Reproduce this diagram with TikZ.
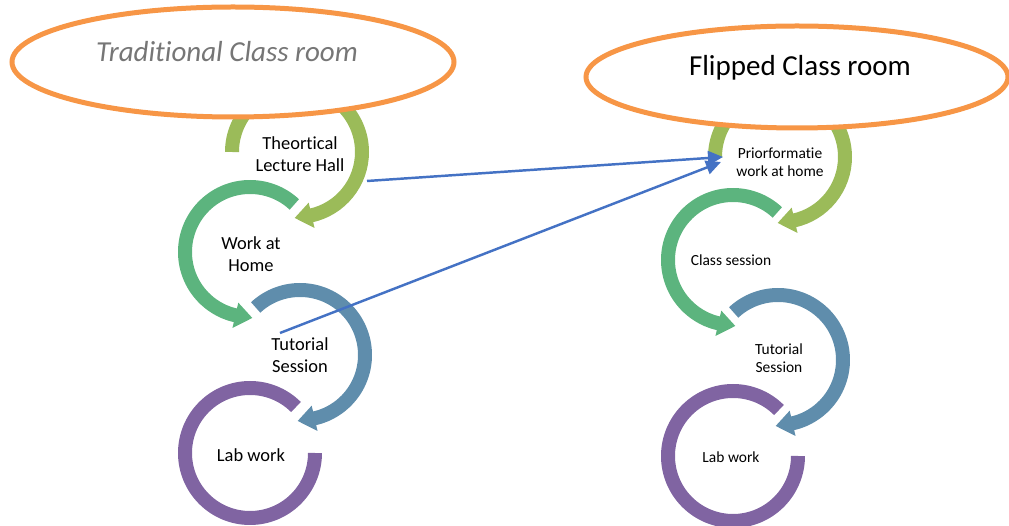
\documentclass[tikz,border=0pt]{standalone}
\usepackage{fontspec}
\setmainfont{Carlito}[RawFeature={-liga;-clig;-calt}]
\usepackage{tikz}
\usetikzlibrary{arrows.meta}
\definecolor{ringolive}{RGB}{155,187,89}
\definecolor{ringgreen}{RGB}{92,180,126}
\definecolor{ringblue}{RGB}{95,141,172}
\definecolor{ringpurple}{RGB}{128,100,162}
\definecolor{titleorange}{RGB}{247,150,70}
\definecolor{linkblue}{RGB}{68,114,196}
\definecolor{titlegray}{RGB}{118,118,118}

\begin{document}
\begin{tikzpicture}[x=0.02cm, y=0.02cm,
    ring/.style={line width=0.28cm},
    titleshape/.style={titleorange, line width=0.1cm, fill=white},
    lefttext/.style={align=center, font=\fontsize{10.5}{12.5}\selectfont},
    righttext/.style={align=center, font=\fontsize{8.8}{10}\selectfont},
    link/.style={linkblue, line width=1.4pt, -{Triangle[length=3mm,width=2.8mm]}}]
  \useasboundingbox (0,0) rectangle (1009,-526);

  % traditional class room
  \draw[ring, ringolive] (297,-152) ++(180:65) arc[start angle=180, end angle=-78, radius=65];
  \fill[ringolive, shift={(297,-152)}] (-77:78) -- (-92:66) -- (-77:52) -- cycle;
  \draw[ring, ringgreen] (250,-252) ++(47:65) arc[start angle=47, end angle=258, radius=65];
  \fill[ringgreen, shift={(250,-252)}] (257:78) -- (272:66) -- (257:52) -- cycle;
  \draw[ring, ringblue] (300,-355) ++(133:65) arc[start angle=133, end angle=-78, radius=65];
  \fill[ringblue, shift={(300,-355)}] (-77:78) -- (-92:66) -- (-77:52) -- cycle;
  \draw[ring, ringpurple] (250,-453) ++(45:65) arc[start angle=45, end angle=360, radius=65];

  \node[lefttext] (lecture) at (300,-154) {Theortical\\Lecture Hall};
  \node[lefttext] (homework) at (251,-254) {Work at\\Home};
  \node[lefttext] (tutorial) at (300,-355) {Tutorial\\Session};
  \node[lefttext] (labwork) at (251,-455) {Lab work};

  \draw[titleshape] (233,-62) ellipse [x radius=221, y radius=55];
  \node[font=\fontsize{16.5}{19}\selectfont\itshape, text=titlegray] (traditional) at (227,-52) {Traditional Class room};

  % flipped class room
  \draw[ring, ringolive] (780,-157) ++(180:65) arc[start angle=180, end angle=-78, radius=65];
  \fill[ringolive, shift={(780,-157)}] (-77:78) -- (-92:66) -- (-77:52) -- cycle;
  \draw[ring, ringgreen] (733,-260) ++(47:65) arc[start angle=47, end angle=258, radius=65];
  \fill[ringgreen, shift={(733,-260)}] (257:78) -- (272:66) -- (257:52) -- cycle;
  \draw[ring, ringblue] (778,-360) ++(133:65) arc[start angle=133, end angle=-78, radius=65];
  \fill[ringblue, shift={(778,-360)}] (-77:78) -- (-92:66) -- (-77:52) -- cycle;
  \draw[ring, ringpurple] (733,-456) ++(45:65) arc[start angle=45, end angle=360, radius=65];

  \node[righttext] (prior) at (780,-162) {Priorformatie\\work at home};
  \node[righttext] (classsession) at (731,-260) {Class session};
  \node[righttext] (tutorialtwo) at (779,-358) {Tutorial\\Session};
  \node[righttext] (labworktwo) at (731,-457) {Lab work};

  \draw[titleshape] (797,-77) ellipse [x radius=211, y radius=51];
  \node[font=\fontsize{16.5}{19}\selectfont] (flipped) at (800,-68) {Flipped Class room};

  % links
  \coordinate (lectureout) at (367,-181);
  \coordinate (tutorialout) at (280,-333);
  \coordinate (priorin) at (723,-157);
  \coordinate (priorintwo) at (721,-162);
  \draw[link] (lectureout) -- (priorin);
  \draw[link] (tutorialout) -- (priorintwo);
\end{tikzpicture}
\end{document}
